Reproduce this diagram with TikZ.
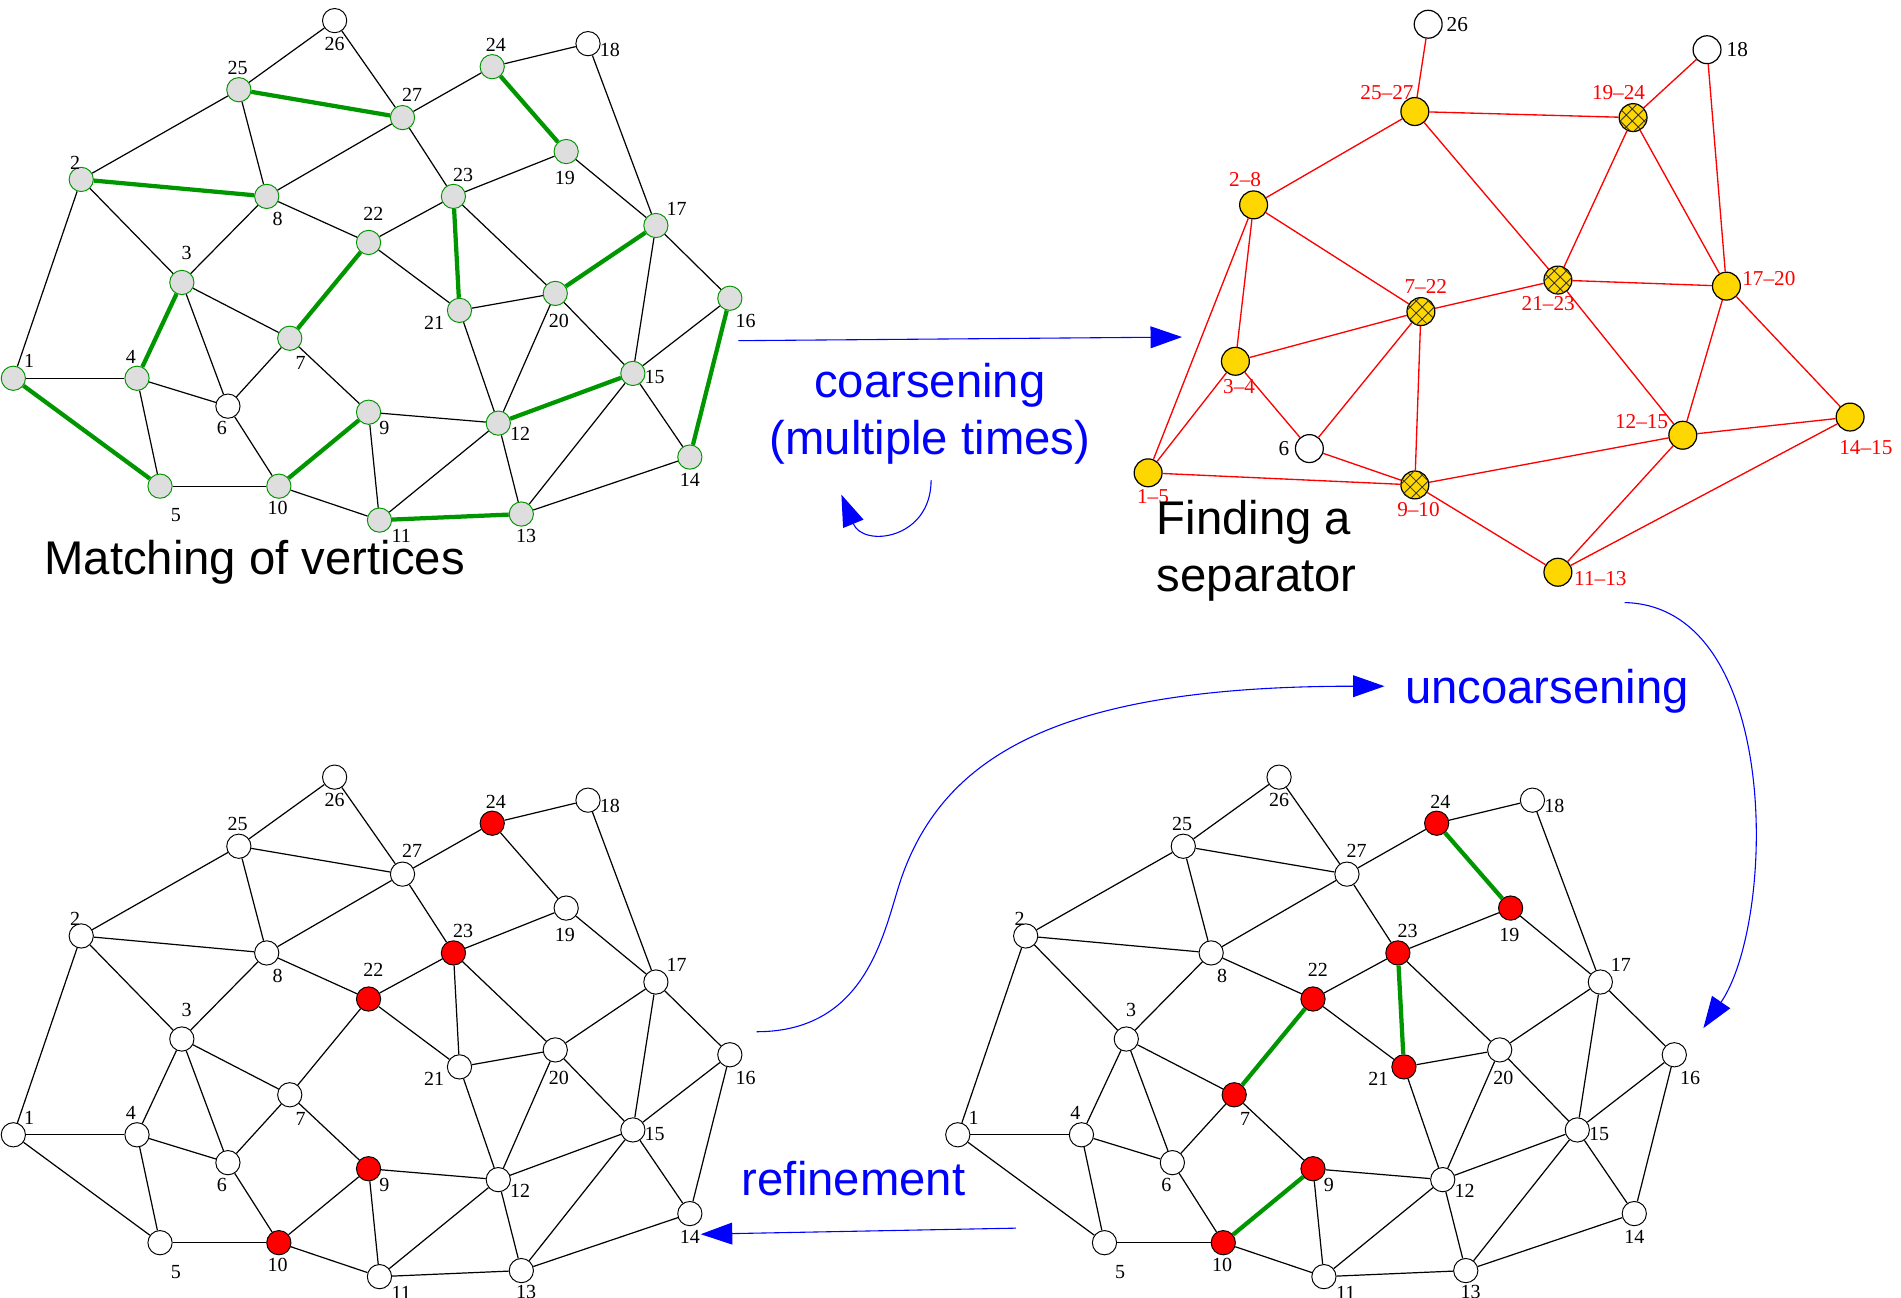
\documentclass[tikz,border=0pt]{standalone}
\usepackage{fontspec}
\setmainfont{Liberation Sans}
\newfontfamily\numfont{Liberation Serif}
\usetikzlibrary{arrows.meta,patterns.meta}

\definecolor{matchgreen}{RGB}{0,150,0}
\definecolor{gold}{RGB}{255,215,0}
\definecolor{flowblue}{RGB}{0,0,255}

% vertex / x / y / label dx / label dy
\newcommand{\vertlist}{1/11/312/13/-14, 2/67/148/-5/-14, 3/150/233/4/-24, 4/113/312/-5/-18,
  5/132/401/13/24, 6/188/335/-5/18, 7/239/279/9/20, 8/220/162/9/19, 9/304/340/13/13,
  10/230/401/-1/18, 11/313/429/18/13, 12/411/349/18/9, 13/430/424/4/18, 14/569/377/0/19,
  15/522/308/18/3, 16/602/246/13/19, 17/541/186/17/-14, 18/485/36/18/5, 19/467/125/-1/22,
  20/458/242/3/23, 21/379/256/-21/10, 22/304/200/4/-24, 23/374/162/8/-18, 24/406/55/3/-18,
  25/197/74/-1/-18, 26/276/17/0/19, 27/332/97/8/-19}
\newcommand{\edgelist}{26/25, 26/27, 25/2, 25/8, 27/24, 27/8, 27/23, 24/18, 18/17, 19/23,
  19/17, 2/3, 2/1, 8/3, 8/22, 23/22, 23/20, 22/21, 17/15, 17/16, 3/7, 3/6, 21/20, 21/12,
  20/12, 20/15, 16/15, 7/6, 7/9, 1/4, 4/5, 4/6, 15/14, 15/13, 6/10, 9/12, 9/11, 12/11,
  12/13, 14/13, 5/10, 10/11}
\newcommand{\matchlist}{25/27, 2/8, 24/19, 23/21, 22/7, 3/4, 17/20, 16/14, 1/5, 15/12,
  9/10, 11/13}

\begin{document}
\begin{tikzpicture}[x=1pt, y=-1pt,
    vtx/.style={circle, draw=black, fill=white, line width=0.8pt, minimum size=20pt, inner sep=0pt},
    matchvtx/.style={vtx, draw=matchgreen, fill=black!13},
    sepvtx/.style={vtx, fill=red},
    num/.style={font=\numfont\fontsize{16.5}{16.5}\selectfont, inner sep=0pt},
    clabel/.style={num, font=\numfont\fontsize{17.5}{17.5}\selectfont},
    link/.style={line width=1pt},
    matched/.style={line width=3.5pt, matchgreen},
    coarse/.style={circle, draw, line width=1pt, fill=gold, minimum size=23pt, inner sep=0pt},
    cplain/.style={coarse, fill=white},
    hatched/.style={coarse,
        postaction={pattern={Lines[angle=45, distance=7pt, line width=0.7pt]}, pattern color=black!80},
        postaction={pattern={Lines[angle=-45, distance=7pt, line width=0.7pt]}, pattern color=black!80}},
    clink/.style={red, line width=1.1pt},
    caption/.style={font=\fontsize{39}{47}\selectfont, inner sep=0pt},
    bluecap/.style={caption, text=flowblue, align=center},
    flow/.style={flowblue, line width=0.9pt, -{Triangle[length=26pt, width=18pt]}},
    a26/.style={vtx}, a18/.style={vtx}, a6/.style={vtx},
    b24/.style={sepvtx}, b23/.style={sepvtx}, b22/.style={sepvtx}, b9/.style={sepvtx}, b10/.style={sepvtx},
    c24/.style={sepvtx}, c19/.style={sepvtx}, c23/.style={sepvtx}, c21/.style={sepvtx},
    c22/.style={sepvtx}, c7/.style={sepvtx}, c9/.style={sepvtx}, c10/.style={sepvtx},
]
\useasboundingbox (0,0) rectangle (1568,1070);

% the three copies of the fine graph
\foreach \p/\sx/\sy/\base in {a/0/0/matchvtx, b/0/624/vtx, c/779/624/vtx} {
    \foreach \n/\x/\y/\dx/\dy in \vertlist {
        \node[\base, \p\n/.try] (\p\n) at ({\x+\sx},{\y+\sy}) {};
        \node[num] (\p\n-t) at ({\x+\sx+\dx},{\y+\sy+\dy}) {\n};
    }
    \foreach \u/\v in \edgelist
        \draw[link] (\p\u) -- (\p\v);
}
\foreach \u/\v in \matchlist {
    \draw[matched] (a\u) -- (a\v);
    \draw[link] (b\u) -- (b\v);
}
\foreach \u/\v in {24/19, 23/21, 22/7, 9/10}
    \draw[matched] (c\u) -- (c\v);
\foreach \u/\v in {25/27, 2/8, 3/4, 17/20, 16/14, 1/5, 15/12, 11/13}
    \draw[link] (c\u) -- (c\v);

% coarse graph
\foreach \k/\x/\y/\st/\txt/\dx/\dy/\col in {
    k26/1178/20/cplain/26/24/0/black, k18/1408/41/cplain/18/25/0/black,
    k6/1080/370/cplain/6/-21/0/black,
    k25/1167/92/coarse/25\textendash27/-23/-16/red, k19/1347/97/hatched/19\textendash24/-12/-21/red,
    k2/1034/169/coarse/2\textendash8/-7/-21/red, k21/1285/231/hatched/21\textendash23/-8/19/red,
    k17/1424/236/coarse/17\textendash20/35/-6/red, k7/1172/257/hatched/7\textendash22/4/-21/red,
    k3/1019/298/coarse/3\textendash4/3/21/red, k12/1388/359/coarse/12\textendash15/-34/-11/red,
    k14/1526/344/coarse/14\textendash15/13/25/red, k1/947/390/coarse/1\textendash5/4/20/red,
    k9/1167/400/hatched/9\textendash10/3/20/red, k11/1285/472/coarse/11\textendash13/35/5/red} {
    \node[\st] (\k) at (\x,\y) {};
    \node[clabel, text=\col] (\k-t) at ({\x+\dx},{\y+\dy}) {\txt};
}
\foreach \u/\v in {k26/k25, k25/k19, k25/k2, k25/k21, k19/k18, k19/k21, k19/k17, k18/k17,
    k2/k7, k2/k3, k2/k1, k21/k7, k21/k17, k21/k12, k17/k12, k17/k14, k7/k3, k7/k6, k7/k9,
    k3/k1, k3/k6, k6/k9, k1/k9, k9/k12, k9/k11, k12/k14, k12/k11, k14/k11}
    \draw[clink] (\u) -- (\v);

% captions
\node[caption] (matchtxt) at (210,464) {Matching of vertices};
\node[bluecap] (coarsetxt) at (767,341) {coarsening\\(multiple times)};
\node[caption, align=left, anchor=west] (septxt) at (954,454) {Finding a\\separator};
\node[bluecap] (uncoarsetxt) at (1276,570) {uncoarsening};
\node[bluecap] (refinetxt) at (704,972) {refinement};

% arrows between the stages
\coordinate (coarse-s) at (609,281);
\coordinate (coarse-e) at (975,278);
\coordinate (again-s) at (768,396);
\coordinate (again-e) at (694,408);
\coordinate (down-s) at (1340,497);
\coordinate (down-e) at (1405,848);
\coordinate (up-s) at (624,851);
\coordinate (up-m) at (745,720);
\coordinate (up-e) at (1142,566);
\coordinate (refine-s) at (838,1013);
\coordinate (refine-e) at (578,1018);
\draw[flow] (coarse-s) -- (coarse-e);
\draw[flow] (again-s) .. controls (768,445) and (712,452) .. (again-e);
\draw[flow] (down-s) .. controls (1470,500) and (1465,760) .. (down-e);
\draw[flow] (up-s) .. controls (720,851) and (730,760) .. (up-m)
    .. controls (782,620) and (880,566) .. (up-e);
\draw[flow] (refine-s) -- (refine-e);
\end{tikzpicture}
\end{document}
